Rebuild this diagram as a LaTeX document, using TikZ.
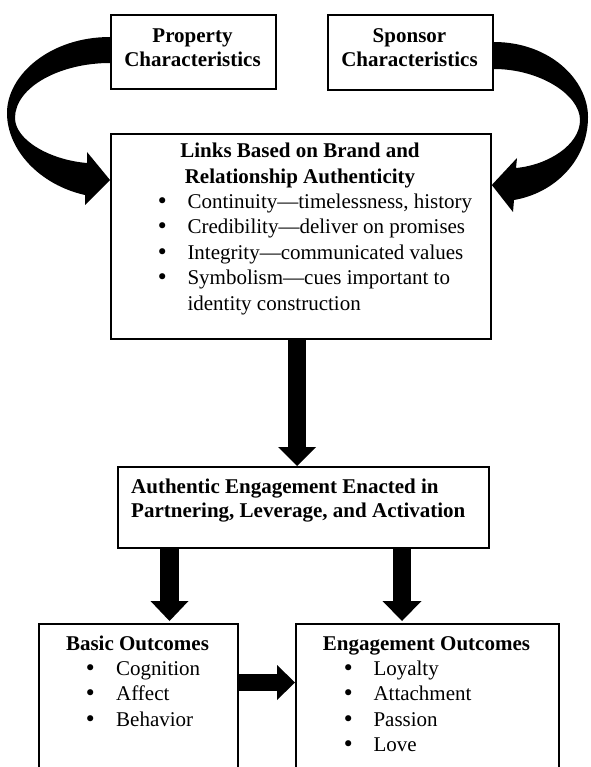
\documentclass[tikz,border=0pt]{standalone}
\usepackage{fontspec}
\setmainfont{Liberation Serif}
\newfontfamily\dotfont{DejaVu Sans}
\usetikzlibrary{arrows.meta,calc}
\newcommand\listdot[1][31pt]{\makebox[#1][l]{\hspace*{-0.4pt}{\dotfont •}}}
\begin{document}
\begin{tikzpicture}[x=1pt,y=-1pt,
  box/.style={draw=black, line width=1.8pt, fill=white, inner sep=0pt, anchor=north west},
  txt/.style={inner sep=0pt, anchor=base, font=\fontsize{21}{25.5}\selectfont},
  btxt/.style={txt, font=\fontsize{21}{25.5}\selectfont\bfseries},
  ltxt/.style={txt, anchor=base west},
  blockarrow/.style n args={3}{line width=#1,
    -{Triangle[length=#2, width=#3, line width=0pt]}},
  curved/.style={fill=black},
]
\useasboundingbox (0,0) rectangle (590,767);
\clip (0,0) rectangle (590,767);
\fill[white] (0,0) rectangle (590,767);

% boxes
\node[box, minimum width=165pt, minimum height=74pt]  (prop)  at (110,14)  {};
\node[box, minimum width=165pt, minimum height=75pt]  (spon)  at (327,14)  {};
\node[box, minimum width=380pt, minimum height=205pt] (links) at (110,133) {};
\node[box, minimum width=371pt, minimum height=81pt]  (auth)  at (117,466) {};
\node[box, minimum width=199pt, minimum height=170pt] (basic) at (38,623)  {};
\node[box, minimum width=263pt, minimum height=170pt] (eng)   at (295,623) {};

% box texts
\node[btxt, font=\fontsize{21}{24}\selectfont\bfseries] (propT) at (192.5,43)
  {\begin{tabular}[t]{@{}c@{}}Property\\Characteristics\end{tabular}};
\node[btxt, font=\fontsize{21}{24}\selectfont\bfseries] (sponT) at (409.5,43)
  {\begin{tabular}[t]{@{}c@{}}Sponsor\\Characteristics\end{tabular}};
\node[btxt] (linksT) at (300,158)
  {\begin{tabular}[t]{@{}c@{}}Links Based on Brand and\\Relationship Authenticity\end{tabular}};
\node[ltxt] (linksL) at (156.3,208)
  {\begin{tabular}[t]{@{}l@{}}
   \listdot Continuity—timelessness, history\\
   \listdot Credibility—deliver on promises\\
   \listdot Integrity—communicated values\\
   \listdot Symbolism—cues important to\\
   \hspace*{31pt}identity construction
   \end{tabular}};
\node[btxt, anchor=base west, font=\fontsize{21}{24}\selectfont\bfseries] (authT) at (131,493)
  {\begin{tabular}[t]{@{}l@{}}Authentic Engagement Enacted in\\Partnering, Leverage, and Activation\end{tabular}};
\node[btxt] (basicT) at (137.5,650) {Basic Outcomes};
\node[ltxt] (basicL) at (84.3,675)
  {\begin{tabular}[t]{@{}l@{}}
   \listdot[31.7pt]Cognition\\
   \listdot[31.7pt]Affect\\
   \listdot[31.7pt]Behavior
   \end{tabular}};
\node[btxt] (engT) at (426.5,650) {Engagement Outcomes};
\node[ltxt] (engL) at (342.3,675)
  {\begin{tabular}[t]{@{}l@{}}
   \listdot Loyalty\\
   \listdot Attachment\\
   \listdot Passion\\
   \listdot Love
   \end{tabular}};

% curved arrow: property characteristics -> links
\fill[curved] ($(prop.north west)+(0,23)$)
  .. controls (50,37) and (7,75) .. (7,113)
  .. controls (7,150) and (40,185) .. (85,195)
  -- (85,205) -- ($(links.north west)+(0,47)$) -- (87,152) -- (87,163)
  .. controls (50,160) and (15,140) .. (15,118)
  .. controls (15,87) and (60,63) .. ($(prop.north west)+(0,49)$) -- cycle;

% curved arrow: sponsor characteristics -> links
\fill[curved] ($(spon.north east)+(0,28)$)
  .. controls (550,42) and (588,80) .. (588,117)
  .. controls (588,160) and (555,193) .. (514,200)
  -- (513,212) -- ($(links.north east)+(0,52)$) -- (517,158) -- (516,168)
  .. controls (548,165) and (580,145) .. (580,120)
  .. controls (580,95) and (540,69) .. ($(spon.north east)+(0,55)$) -- cycle;

% straight block arrows
\coordinate (colM) at (297,0);
\coordinate (colA) at (169.5,0);
\coordinate (colB) at (402,0);
\coordinate (rowH) at (0,682.5);
\draw[blockarrow={18pt}{19pt}{38pt}] (links.south -| colM) -- (auth.north -| colM);
\draw[blockarrow={19pt}{20pt}{38pt}] (auth.south -| colA) -- ([yshift=2pt]basic.north -| colA);
\draw[blockarrow={18pt}{20pt}{39pt}] (auth.south -| colB) -- ([yshift=2pt]eng.north -| colB);
\draw[blockarrow={17pt}{18pt}{35pt}] (basic.east |- rowH) -- (eng.west |- rowH);
\end{tikzpicture}
\end{document}
